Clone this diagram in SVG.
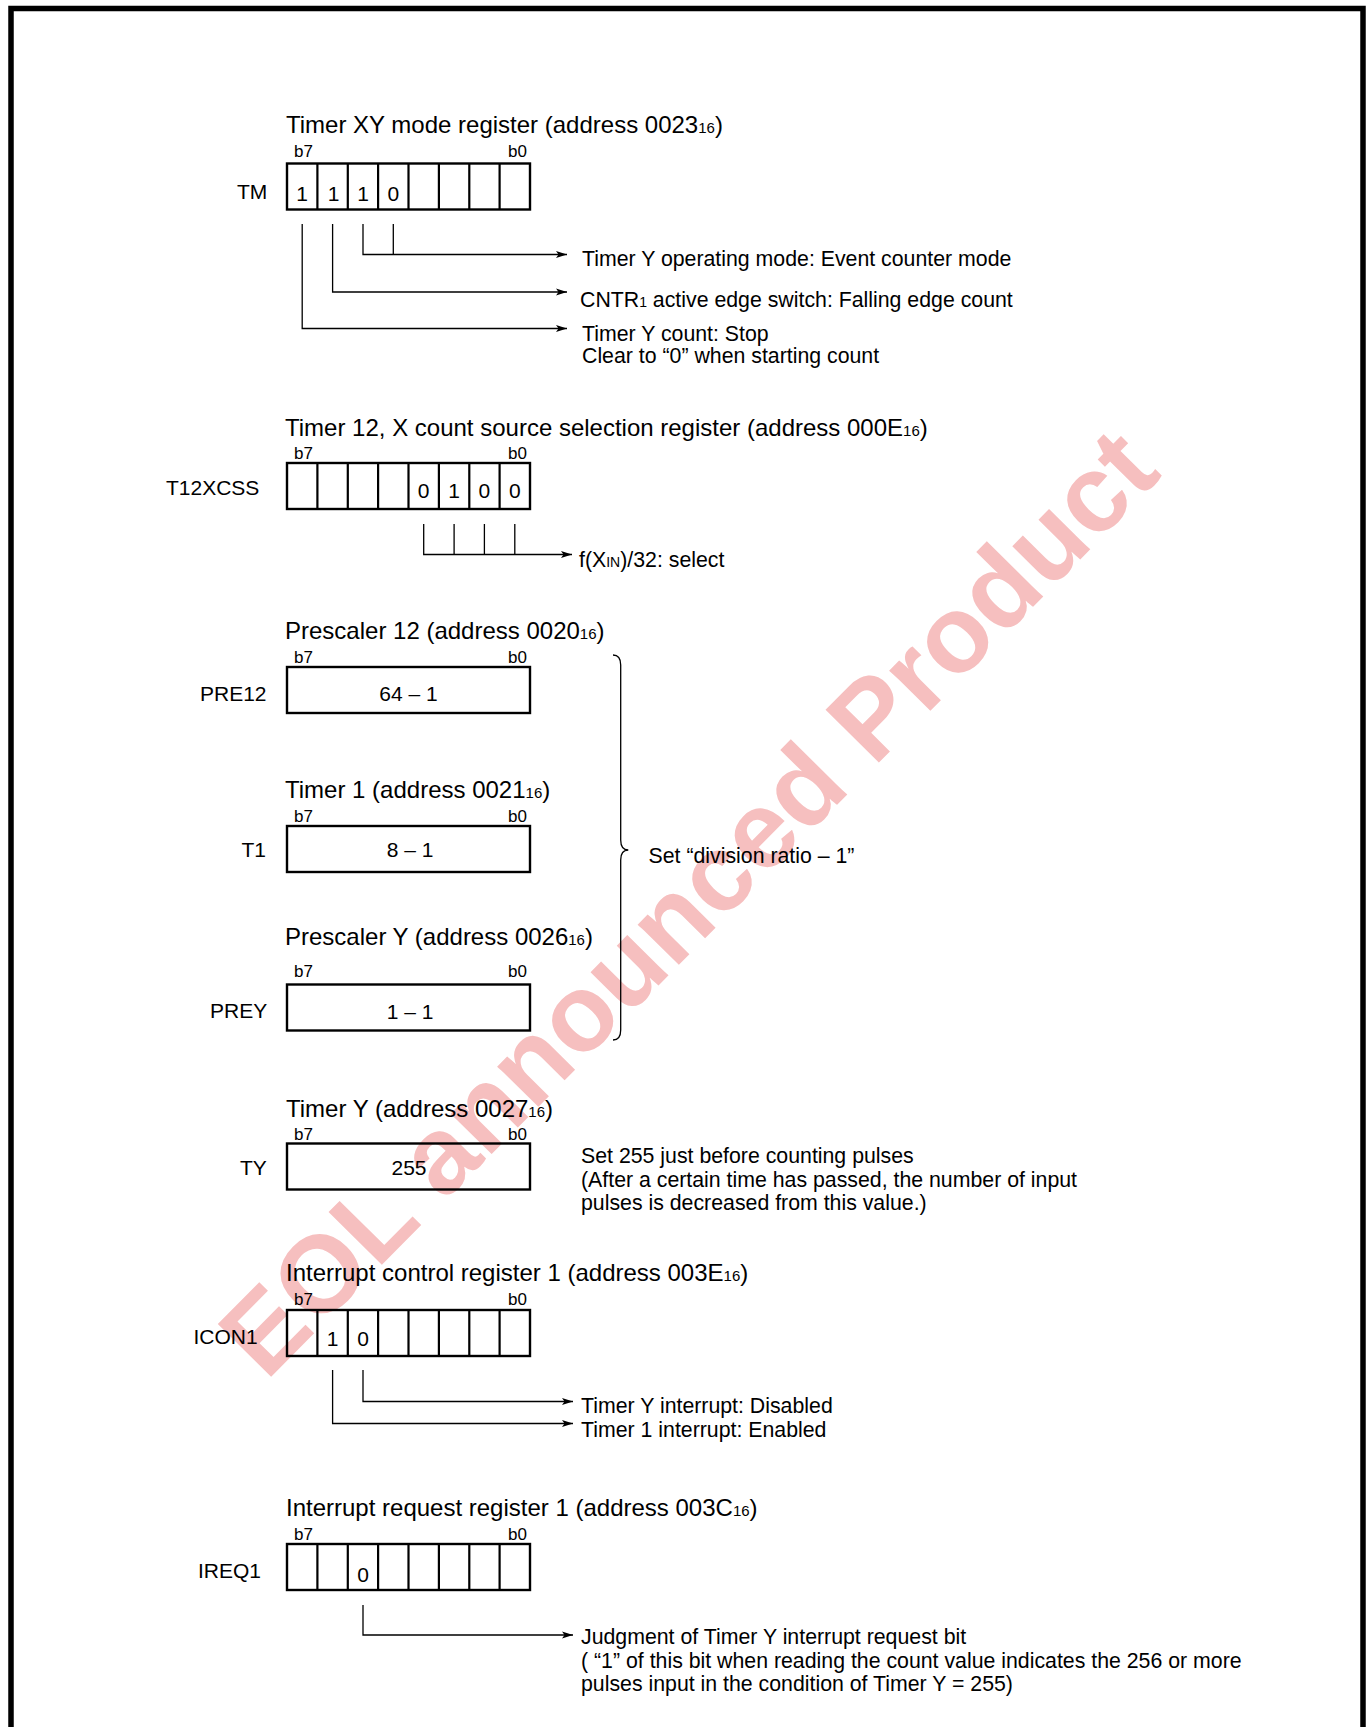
<svg xmlns="http://www.w3.org/2000/svg" xmlns:xlink="http://www.w3.org/1999/xlink" width="1372" height="1727" viewBox="0 0 1372 1727">
<defs>
<style>
text{font-family:"Liberation Sans",Arial,sans-serif;fill:#000}
.title{font-size:24px}
.lbl{font-size:21px}
.bit{font-size:17px}
.bit0{font-size:17px;text-anchor:end}
.dig{font-size:21px;text-anchor:middle}
.desc{font-size:21.3px}
.sub{font-size:15px}
.sub2{font-size:14px}
.box{fill:none;stroke:#000;stroke-width:2.4}
.div{fill:none;stroke:#000;stroke-width:2.2}
.conn{fill:none;stroke:#000;stroke-width:1.3}
.arr{marker-end:url(#ah)}
.wm{font-family:"Liberation Sans",Arial,sans-serif;font-weight:bold;font-size:109px;fill:#f6bfbf}
</style>
<marker id="ah" markerUnits="userSpaceOnUse" markerWidth="12" markerHeight="8" refX="11" refY="4" orient="auto"><path d="M0,0.5 L11,4 L0,7.5 L2.5,4 z" fill="#000"/></marker>
<g id="reg8"><rect class="box" x="0" y="0" width="243" height="46"/><path class="div" d="M30.4,0V46M60.8,0V46M91.1,0V46M121.5,0V46M151.9,0V46M182.3,0V46M212.6,0V46"/></g>
</defs>
<rect x="0" y="0" width="1372" height="1727" fill="#fff"/>
<text class="wm" transform="translate(266,1382) rotate(-45.3)">EOL announced Product</text>
<rect x="11" y="8.5" width="1352" height="1760" fill="none" stroke="#000" stroke-width="5.5"/>

<g id="TM">
<text class="title" x="286" y="133">Timer XY mode register (address 0023<tspan class="sub">16</tspan>)</text>
<text class="bit" x="294" y="157">b7</text><text class="bit0" x="527" y="157">b0</text>
<text class="lbl" x="237" y="199">TM</text>
<use xlink:href="#reg8" href="#reg8" x="287" y="163.5"/>
<text class="dig" x="302.2" y="201">1</text><text class="dig" x="333.5" y="201">1</text><text class="dig" x="363" y="201">1</text><text class="dig" x="393.3" y="201">0</text>
<text class="desc" x="582" y="266">Timer Y operating mode: Event counter mode</text>
<text class="desc" x="580" y="307">CNTR<tspan class="sub2">1</tspan> active edge switch: Falling edge count</text>
<text class="desc" x="582" y="340.5">Timer Y count: Stop</text>
<text class="desc" x="582" y="363">Clear to “0” when starting count</text>
</g>

<g id="T12XCSS">
<text class="title" x="285" y="436">Timer 12, X count source selection register (address 000E<tspan class="sub">16</tspan>)</text>
<text class="bit" x="294" y="459">b7</text><text class="bit0" x="527" y="459">b0</text>
<text class="lbl" x="166" y="495">T12XCSS</text>
<use xlink:href="#reg8" href="#reg8" x="287" y="463"/>
<text class="dig" x="423.7" y="498">0</text><text class="dig" x="454.1" y="498">1</text><text class="dig" x="484.4" y="498">0</text><text class="dig" x="514.8" y="498">0</text>
<text class="desc" x="579" y="567">f(X<tspan class="sub2">IN</tspan>)/32: select</text>
</g>

<g id="PRE12">
<text class="title" x="285" y="639">Prescaler 12 (address 0020<tspan class="sub">16</tspan>)</text>
<text class="bit" x="294" y="663">b7</text><text class="bit0" x="527" y="663">b0</text>
<text class="lbl" x="200" y="701">PRE12</text>
<rect class="box" x="287" y="667" width="243" height="46"/>
<text class="dig" x="408.5" y="701">64 – 1</text>
</g>

<g id="T1">
<text class="title" x="285" y="798">Timer 1 (address 0021<tspan class="sub">16</tspan>)</text>
<text class="bit" x="294" y="822">b7</text><text class="bit0" x="527" y="822">b0</text>
<text class="lbl" x="241.5" y="857">T1</text>
<rect class="box" x="287" y="826" width="243" height="46"/>
<text class="dig" x="410" y="857">8 – 1</text>
</g>

<g id="PREY">
<text class="title" x="285" y="945">Prescaler Y (address 0026<tspan class="sub">16</tspan>)</text>
<text class="bit" x="294" y="977">b7</text><text class="bit0" x="527" y="977">b0</text>
<text class="lbl" x="210" y="1018">PREY</text>
<rect class="box" x="287" y="984.5" width="243" height="46"/>
<text class="dig" x="410" y="1018.5">1 – 1</text>
</g>

<g id="brace">
<path class="conn" d="M613,655 Q620.7,655 620.7,665 L620.7,840 Q620.7,850 628.3,850 Q620.7,850 620.7,860 L620.7,1030 Q620.7,1040 613,1040"/>
<text class="desc" x="648.5" y="863">Set “division ratio – 1”</text>
</g>

<g id="TY">
<text class="title" x="286" y="1117">Timer Y (address 0027<tspan class="sub">16</tspan>)</text>
<text class="bit" x="294" y="1140">b7</text><text class="bit0" x="527" y="1140">b0</text>
<text class="lbl" x="240" y="1175">TY</text>
<rect class="box" x="287" y="1143.5" width="243" height="46"/>
<text class="dig" x="409" y="1175">255</text>
<text class="desc" x="581" y="1163">Set 255 just before counting pulses</text>
<text class="desc" x="581" y="1187">(After a certain time has passed, the number of input</text>
<text class="desc" x="581" y="1210">pulses is decreased from this value.)</text>
</g>

<g id="ICON1">
<text class="title" x="286" y="1281">Interrupt control register 1 (address 003E<tspan class="sub">16</tspan>)</text>
<text class="bit" x="294" y="1305">b7</text><text class="bit0" x="527" y="1305">b0</text>
<text class="lbl" x="193.5" y="1344">ICON1</text>
<use xlink:href="#reg8" href="#reg8" x="287" y="1310"/>
<text class="dig" x="332.6" y="1346">1</text><text class="dig" x="363" y="1346">0</text>
<text class="desc" x="581" y="1413">Timer Y interrupt: Disabled</text>
<text class="desc" x="581" y="1437">Timer 1 interrupt: Enabled</text>
</g>

<g id="IREQ1">
<text class="title" x="286" y="1516">Interrupt request register 1 (address 003C<tspan class="sub">16</tspan>)</text>
<text class="bit" x="294" y="1540">b7</text><text class="bit0" x="527" y="1540">b0</text>
<text class="lbl" x="198" y="1578">IREQ1</text>
<use xlink:href="#reg8" href="#reg8" x="287" y="1544"/>
<text class="dig" x="363" y="1582">0</text>
<text class="desc" x="581" y="1644">Judgment of Timer Y interrupt request bit</text>
<text class="desc" x="581" y="1668">( “1” of this bit when reading the count value indicates the 256 or more</text>
<text class="desc" x="581" y="1691">pulses input in the condition of Timer Y = 255)</text>
</g>

<g id="connectors">
<path class="conn" d="M393.3,224V254.5"/>
<path class="conn arr" d="M363,224V254.5H567"/>
<path class="conn arr" d="M332.6,224V292H567"/>
<path class="conn arr" d="M302.2,224V328.5H567"/>
<path class="conn" d="M454.1,524V554.5M484.4,524V554.5M514.8,524V554.5"/>
<path class="conn arr" d="M423.7,524V554.5H572"/>
<path class="conn arr" d="M363,1370V1401.5H573"/>
<path class="conn arr" d="M332.6,1370V1423.5H573"/>
<path class="conn arr" d="M363,1605V1635H573"/>
</g>
</svg>
